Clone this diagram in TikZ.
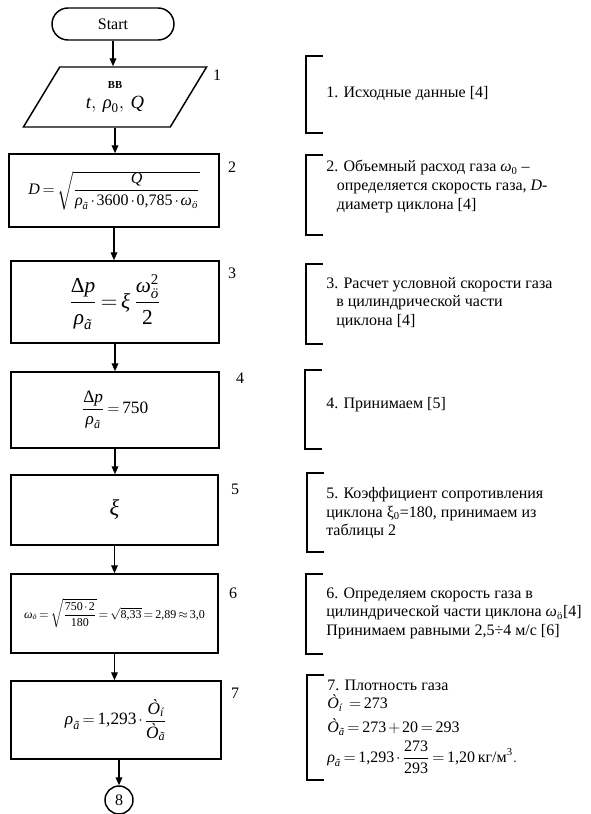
\documentclass[tikz,border=0pt]{standalone}
\usepackage{amsmath}
\usepackage{fontspec}
\setmainfont{Liberation Serif}
\usetikzlibrary{shapes.geometric,arrows.meta}
\newcommand{\ti}[1]{\text{\itshape #1}}
\newcommand{\tn}[1]{\text{\upshape #1}}
\thickmuskip=3mu plus 2mu
\medmuskip=2mu plus 1mu
\begin{document}
\begin{tikzpicture}[x=0.75pt,y=-0.75pt]
\tikzset{
 blk/.style={draw, line width=1.1pt, inner sep=0pt},
 arr/.style={-{Triangle[length=6pt,width=5pt]}, line width=1pt},
 num/.style={inner sep=0pt, font=\fontsize{12}{14}\selectfont},
 cmt/.style={anchor=west, align=left, inner sep=0pt, font=\fontsize{12}{13.9}\selectfont},
 brk/.style={line width=0.9pt},
}
\useasboundingbox (0,0) rectangle (590,814);

% flowchart
\node[blk, rounded corners=12pt, minimum width=91.5pt, minimum height=24pt, font=\fontsize{12}{14}\selectfont] (start) at (113,24) {Start};
\node[blk, trapezium, trapezium left angle=59, trapezium right angle=121, trapezium stretches=true, minimum width=138pt, minimum height=45pt, align=center] (io) at (115,97)
 {{\fontsize{8}{9}\selectfont\bfseries ВВ}\\[3pt]{\fontsize{14}{16}\selectfont $\ti{t},\,\ti{ρ}_{\tn{0}},\,\ti{Q}$}};
\node[blk, minimum width=157.5pt, minimum height=54.75pt, font=\fontsize{12}{14}\selectfont] (b2) at (114,190.5)
 {\raisebox{4pt}{$\ti{D}=\sqrt{\dfrac{\ti{Q}}{\ti{ρ}_{\ti{ã}}\cdot\tn{3600}\cdot\tn{0,785}\cdot\ti{ω}_{\ti{ö}}}}$}};
\node[blk, minimum width=156pt, minimum height=61.5pt, font=\fontsize{16}{18}\selectfont] (b3) at (115,302)
 {$\dfrac{\text{Δ}\ti{p}}{\ti{ρ}_{\ti{ã}}}=\ti{ξ}\,\dfrac{\ti{ω}_{\ti{ö}}^{\tn{2}}}{\tn{2}}$};
\node[blk, minimum width=156pt, minimum height=57pt, font=\fontsize{13}{15}\selectfont] (b4) at (115,410)
 {\raisebox{6pt}{$\dfrac{\text{Δ}\ti{p}}{\ti{ρ}_{\ti{ã}}}=\tn{750}$}};
\node[blk, minimum width=155.25pt, minimum height=52.5pt, font=\fontsize{17}{19}\selectfont] (b5) at (114.5,510)
 {\raisebox{3pt}{$\ti{ξ}$}};
\node[blk, minimum width=155.25pt, minimum height=59.25pt, font=\fontsize{9}{11}\selectfont] (b6) at (114.5,613.5)
 {\raisebox{4pt}{$\ti{ω}_{\ti{ö}}=\sqrt{\dfrac{\tn{750}\cdot\tn{2}}{\tn{180}}}=\sqrt{\tn{8,33}}=\tn{2,89}\approx\tn{3,0}$}};
\node[blk, minimum width=157.5pt, minimum height=58.5pt, font=\fontsize{13}{15}\selectfont] (b7) at (116,720)
 {\raisebox{5pt}{$\ti{ρ}_{\ti{ã}}=\tn{1,293}\cdot\dfrac{\ti{Ò}_{\ti{í}}}{\ti{Ò}_{\ti{ã}}}$}};
\node[blk, circle, minimum size=21pt, font=\fontsize{12}{14}\selectfont] (c8) at (119,800) {8};

\draw[arr] (start.south) -- (start.south |- io.north);
\draw[arr] (io.south) -- (io.south |- b2.north);
\draw[arr] (b2.south) -- (b2.south |- b3.north);
\draw[arr] (b3.south) -- (b3.south |- b4.north);
\draw[arr] (b4.south) -- (b4.south |- b5.north);
\draw[arr] (b5.south) -- (b5.south |- b6.north);
\draw[arr] (b6.south) -- (b6.south |- b7.north);
\draw[arr] (c8.north |- b7.south) -- (c8.north);

% numbers
\node[num] (n1) at (217,75) {1};
\node[num] (n2) at (232,167) {2};
\node[num] (n3) at (232,273) {3};
\node[num] (n4) at (240,378) {4};
\node[num] (n5) at (235,489) {5};
\node[num] (n6) at (233,593) {6};
\node[num] (n7) at (235,693) {7};

% comments
\draw[brk] (323,56) -| (306,133) -- (323,133);
\node[cmt] (c1) at (326,93) {1. Исходные данные [4]};

\draw[brk] (323,155) -| (306,235) -- (323,235);
\node[cmt] (c2) at (326,186.5) {2. Объемный расход газа $\ti{ω}_{\tn{0}}$ –\\\hspace*{8pt}определяется скорость газа, \textit{D}-\\\hspace*{8pt}диаметр циклона [4]};

\draw[brk] (323,264) -| (306,344) -- (323,344);
\node[cmt] (c3) at (326,303) {3. Расчет условной скорости газа\\\hspace*{7.5pt}в цилиндрической части\\\hspace*{7.5pt}циклона [4]};

\draw[brk] (322,370) -| (305,449) -- (322,449);
\node[cmt] (c4) at (326,405) {4. Принимаем [5]};

\draw[brk] (324,473) -| (307,552) -- (324,552);
\node[cmt] (c5) at (326,513) {5. Коэффициент сопротивления\\циклона ξ\textsubscript{0}=180, принимаем из\\таблицы 2};

\draw[brk] (323,574) -| (306,654) -- (323,654);
\node[cmt] (c6) at (326,613) {6. Определяем скорость газа в\\цилиндрической части циклона $\ti{ω}_{\tn{ö}}$[4]\\Принимаем равными 2,5÷4 м/с [6]};

\draw[brk] (324,675) -| (307,780) -- (324,780);
\node[cmt] (c7a) at (327,685) {7. Плотность газа};
\node[cmt] (c7b) at (327,703) {$\ti{Ò}_{\ti{í}}\ =\tn{273}$};
\node[cmt] (c7c) at (327,727) {$\ti{Ò}_{\ti{ã}}=\tn{273}+\tn{20}=\tn{293}$};
\node[cmt] (c7d) at (327,757) {$\ti{ρ}_{\ti{ã}}=\tn{1,293}\cdot\dfrac{\tn{273}}{\tn{293}}=\tn{1,20}\,\tn{кг/м}^{\tn{3}}.$};
\end{tikzpicture}
\end{document}
